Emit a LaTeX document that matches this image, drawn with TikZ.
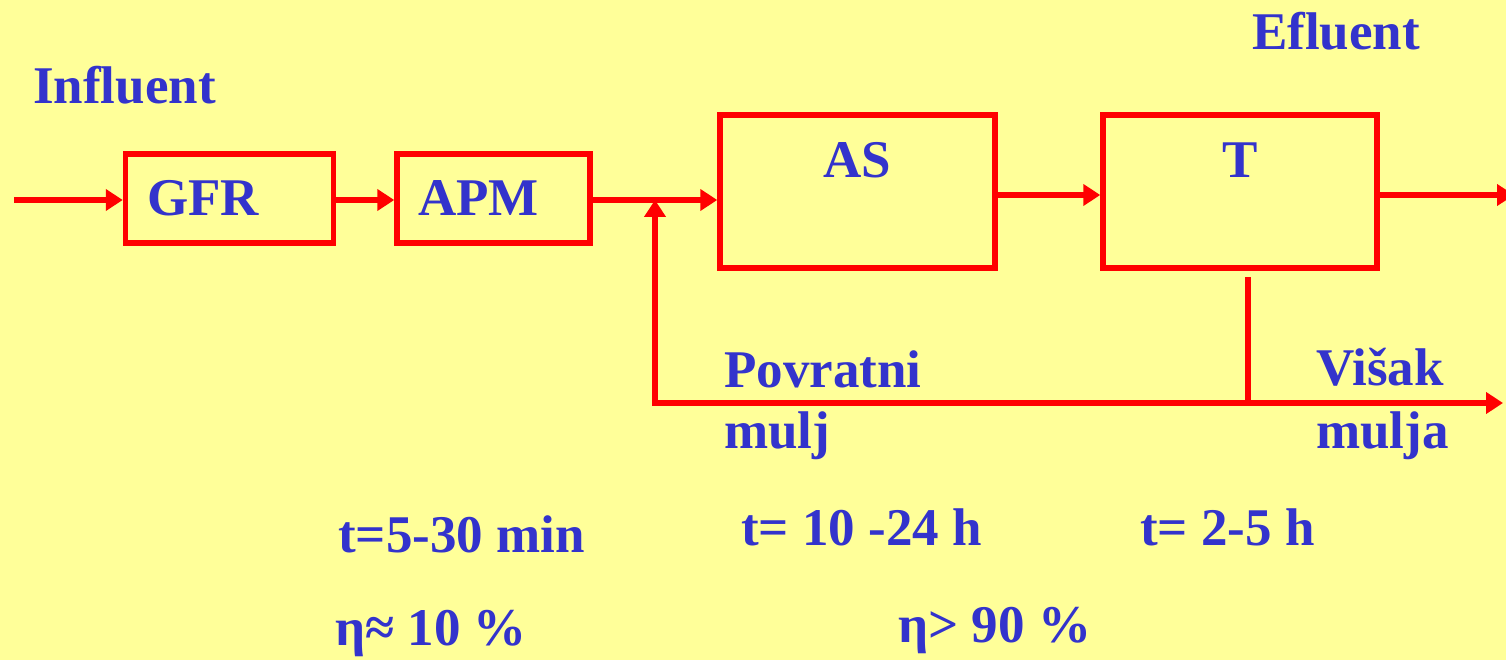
\documentclass[tikz,border=0pt]{standalone}
\usepackage{fontspec}
\setmainfont{Liberation Serif}
\usetikzlibrary{arrows.meta,positioning}
\definecolor{bgyellow}{RGB}{255,255,153}
\definecolor{txtblue}{RGB}{51,51,204}
\definecolor{flowred}{RGB}{255,0,0}

\begin{document}
\begin{tikzpicture}[x=1pt,y=-1pt,>={Triangle[length=17pt,width=21pt]},
    unit/.style={draw=flowred,line width=5.5pt,inner sep=0pt},
    flow/.style={draw=flowred,line width=6.2pt},
    lbl/.style={text=txtblue,font=\bfseries\fontsize{53}{60}\selectfont,inner sep=0pt,anchor=base west},
    lblc/.style={lbl,anchor=base},
  ]
    % background and frame
    \fill[bgyellow] (0,0) rectangle (1506,660);
    \useasboundingbox (0,0) rectangle (1506,660);
    \clip (0,0) rectangle (1506,660);

    % units
    \node[unit,minimum width=208pt,minimum height=89pt] (gfr) at (229.5,198.5) {};
    \node[unit,minimum width=193pt,minimum height=89pt] (apm) at (493.5,198.5) {};
    \node[unit,minimum width=275pt,minimum height=153pt] (as) at (857.5,191.5) {};
    \node[unit,minimum width=274pt,minimum height=153pt] (t) at (1240,191.5) {};

    % labels
    \node[lbl] (gfrtxt) at (147,216) {GFR};
    \node[lbl] (apmtxt) at (418,216) {APM};
    \node[lblc] (astxt) at (857,178) {AS};
    \node[lblc] (ttxt) at (1240,178) {T};
    \node[lbl] (influent) at (33,104) {Influent};
    \node[lbl] (efluent) at (1252,50) {Efluent};
    \node[lbl] (povr) at (724,387) {Povratni};
    \node[lbl] (povr2) at (724,448) {mulj};
    \node[lbl] (visak) at (1316,385) {Višak};
    \node[lbl] (visak2) at (1316,448) {mulja};
    \node[lbl] (tgfr) at (338,552) {t=5-30 min};
    \node[lbl] (tas) at (741,545) {t= 10 -24 h};
    \node[lbl] (tt) at (1140,545) {t= 2-5 h};
    \node[lbl] (eta1) at (335,645) {η≈ 10 \%};
    \node[lbl] (eta2) at (898,642) {η> 90 \%};

    % connections
    \coordinate (in) at (14,200);
    \coordinate (jn) at (655,200);
    \coordinate (ret) at (655,403);
    \coordinate (waste) at (1503,403);
    \coordinate (tdrop) at (1248,277);
    \coordinate (tin) at (1103,195);
    \coordinate (out) at (1514,195);

    \draw[flow,->] (in) -- (in -| gfr.west);
    \draw[flow,->] (gfr.east |- in) -- (in -| apm.west);
    \draw[flow,->] (apm.east |- in) -- (in -| as.west);
    \draw[flow,<->] (jn) -- (ret) -- (waste);
    \draw[flow] (tdrop) -- (tdrop |- ret);
    \draw[flow,->] (as.east |- tin) -- (tin -| t.west);
    \draw[flow,->] (t.east |- out) -- (out);
\end{tikzpicture}
\end{document}
